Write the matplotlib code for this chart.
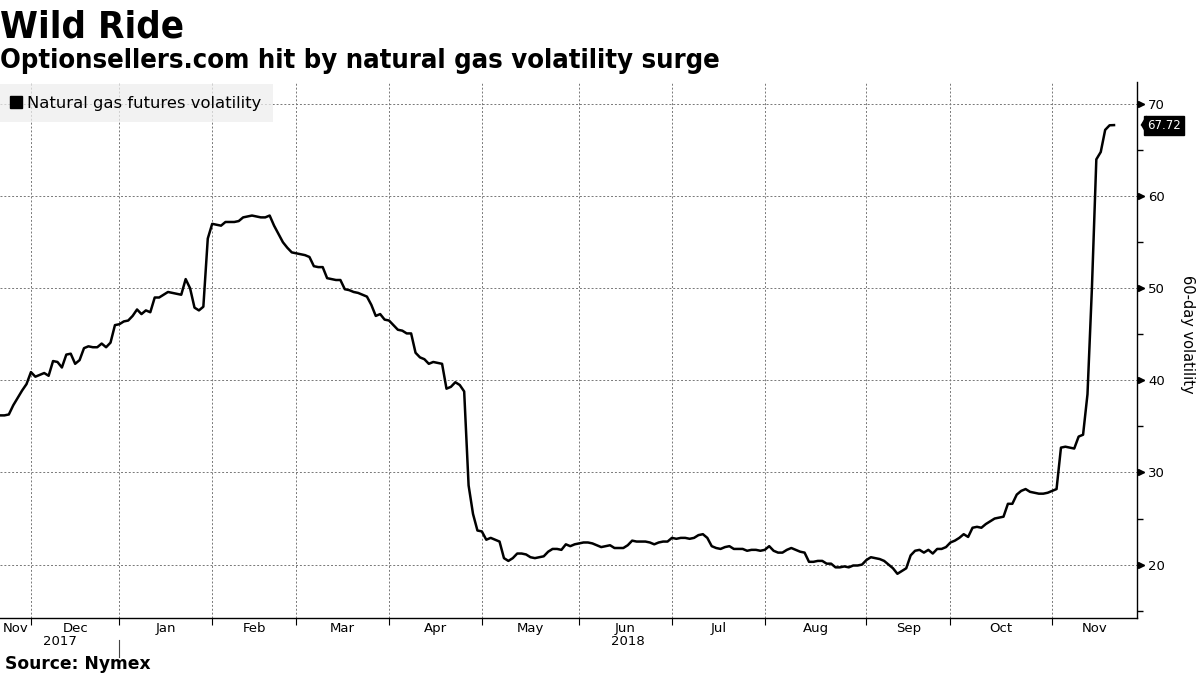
import numpy as np
import matplotlib
matplotlib.use('Agg')
import matplotlib.pyplot as plt
import matplotlib.transforms as mtransforms
from matplotlib.lines import Line2D

plt.rcParams['font.family'] = ['DejaVu Sans']
title_font = ['Liberation Sans Narrow', 'DejaVu Sans']

# trading days from 2017-11-21, NYMEX holidays skipped
start = '2017-11-21'
holidays = ['2017-11-23', '2017-12-25', '2018-01-01', '2018-01-15', '2018-02-19',
            '2018-03-30', '2018-05-28', '2018-07-04', '2018-09-03']

# 60-day volatility of natural gas futures, one value per trading day
vol = [
    36.2, 36.2, 36.3, 37.3, 38.1, 38.9, 39.6, 40.9, 40.4, 40.6,
    40.8, 40.5, 42.1, 42.0, 41.4, 42.8, 42.9, 41.8, 42.2, 43.5,
    43.7, 43.6, 43.6, 44.0, 43.6, 44.1, 46.0, 46.1, 46.4, 46.5,
    47.0, 47.7, 47.2, 47.6, 47.4, 49.0, 49.0, 49.3, 49.6, 49.5,
    49.4, 49.3, 51.0, 50.0, 47.9, 47.6, 48.0, 55.4, 57.0, 56.9,
    56.8, 57.2, 57.2, 57.2, 57.3, 57.7, 57.8, 57.9, 57.8, 57.7,
    57.7, 57.9, 56.8, 55.9, 55.0, 54.4, 53.9, 53.8, 53.7, 53.6,
    53.4, 52.4, 52.3, 52.3, 51.1, 51.0, 50.9, 50.9, 49.9, 49.8,
    49.6, 49.5, 49.3, 49.1, 48.2, 47.0, 47.2, 46.6, 46.5, 46.0,
    45.5, 45.4, 45.1, 45.1, 43.0, 42.5, 42.3, 41.8, 42.0, 41.9,
    41.8, 39.1, 39.3, 39.8, 39.5, 38.8, 28.6, 25.5, 23.7, 23.6,
    22.7, 22.9, 22.7, 22.5, 20.7, 20.4, 20.7, 21.2, 21.2, 21.1,
    20.8, 20.7, 20.8, 20.9, 21.4, 21.7, 21.7, 21.6, 22.2, 22.0,
    22.2, 22.3, 22.4, 22.4, 22.3, 22.1, 21.9, 22.0, 22.1, 21.8,
    21.8, 21.8, 22.1, 22.6, 22.5, 22.5, 22.5, 22.4, 22.2, 22.4,
    22.5, 22.5, 22.9, 22.8, 22.9, 22.9, 22.8, 22.9, 23.2, 23.3,
    22.9, 22.0, 21.8, 21.7, 21.9, 22.0, 21.7, 21.7, 21.7, 21.5,
    21.6, 21.6, 21.5, 21.6, 22.0, 21.5, 21.3, 21.3, 21.6, 21.8,
    21.6, 21.4, 21.3, 20.3, 20.3, 20.4, 20.4, 20.1, 20.1, 19.7,
    19.7, 19.8, 19.7, 19.9, 19.9, 20.0, 20.5, 20.8, 20.7, 20.6,
    20.4, 20.0, 19.6, 19.0, 19.3, 19.6, 21.0, 21.5, 21.6, 21.3,
    21.6, 21.2, 21.7, 21.7, 21.9, 22.4, 22.6, 22.9, 23.3, 23.0,
    24.0, 24.1, 24.0, 24.4, 24.7, 25.0, 25.1, 25.2, 26.6, 26.6,
    27.6, 28.0, 28.2, 27.9, 27.8, 27.7, 27.7, 27.8, 28.0, 28.2,
    32.7, 32.8, 32.7, 32.6, 33.9, 34.1, 38.5, 50.0, 64.0, 64.8,
    67.2, 67.7, 67.72,
]

month_starts = ['2017-12-01', '2018-01-01', '2018-02-01', '2018-03-01', '2018-04-01',
                '2018-05-01', '2018-06-01', '2018-07-01', '2018-08-01', '2018-09-01',
                '2018-10-01', '2018-11-01']
month_labels = ['Nov', 'Dec', 'Jan', 'Feb', 'Mar', 'Apr', 'May', 'Jun', 'Jul', 'Aug',
                'Sep', 'Oct', 'Nov']
years = ['2017', '2018']

x = np.arange(len(vol))
bounds = np.busday_count(start, month_starts, holidays=holidays)
x_max = 257.2
edges = np.concatenate([[0], bounds, [x_max]])
mids = (edges[:-1] + edges[1:]) / 2

fig = plt.figure(figsize=(12, 6.75), dpi=100)
ax = fig.add_axes([0.0, 1 - 618 / 675, 1137 / 1200, 536 / 675])

ax.plot(x, vol, color='black', lw=1.8, solid_joinstyle='round', zorder=3)
ax.set_xlim(0, x_max)
ax.set_ylim(14.2, 72.4)

for s in ['left', 'top']:
    ax.spines[s].set_visible(False)
ax.spines['right'].set_linewidth(1.0)
ax.spines['bottom'].set_linewidth(1.0)

# y axis on the right
ax.yaxis.tick_right()
ax.set_yticks(range(20, 71, 10))
ax.set_yticks(range(15, 70, 10), minor=True)
ax.tick_params(axis='y', which='major', length=5, width=1, labelsize=9.5, pad=3)
ax.tick_params(axis='y', which='minor', length=4, width=1)
ax.yaxis.set_label_position('right')
ax.set_ylabel('60-day volatility', rotation=270, fontsize=10.5, va='center', ha='center')
ax.yaxis.set_label_coords(1 + 51 / 1137, 0.53)

tri = mtransforms.blended_transform_factory(ax.transAxes, ax.transData)
ax.plot([1.0] * 6, range(20, 71, 10), ls='none', marker='>', ms=4, color='black',
        clip_on=False,
        transform=tri + mtransforms.ScaledTranslation(4 / 100, 0, fig.dpi_scale_trans))

# x axis: ticks at month boundaries, labels between them
ax.set_xticks(bounds)
ax.set_xticklabels([])
ax.set_xticks(mids, minor=True)
ax.set_xticklabels(month_labels, minor=True)
ax.tick_params(axis='x', which='major', length=5, width=0.8, direction='out')
ax.tick_params(axis='x', which='minor', length=0, labelsize=9.5, pad=3)

xt = mtransforms.blended_transform_factory(ax.transData, ax.transAxes)
year_mid = [(0 + bounds[1]) / 2, (bounds[1] + x_max) / 2]
for xm, yr in zip(year_mid, years):
    ax.text(xm, -0.043, yr, transform=xt, ha='center', va='center', fontsize=9.5)
ax.plot([bounds[1], bounds[1]], [-0.041, -0.073], transform=xt, color='#444444',
        lw=0.8, clip_on=False)

ax.grid(which='major', color='#777777', ls=(0, (2, 2)), lw=0.7)

# legend
handle = Line2D([], [], marker='s', color='black', ls='none', ms=8)
leg = ax.legend([handle], ['Natural gas futures volatility'], loc='upper left',
                bbox_to_anchor=(0, 0.996), borderaxespad=0, frameon=True, fancybox=False,
                facecolor='#eeeeee', edgecolor='none', framealpha=0.75,
                handlelength=0.6, handletextpad=0.35, borderpad=0.7, fontsize=11.8)

# last value tag
last = vol[-1]
ax.plot([1.0], [last], marker=[(-0.6, 0), (0, 1), (0, -1)], ms=13, color='black',
        ls='none', clip_on=False,
        transform=tri + mtransforms.ScaledTranslation(9 / 100, 0, fig.dpi_scale_trans))
ax.annotate(f'{last:.2f}', xy=(1.0, last), xycoords=tri, xytext=(7.5, 0),
            textcoords='offset points', ha='left', va='center', color='white',
            fontsize=8.5,
            bbox=dict(boxstyle='square,pad=0.25', fc='black', ec='black'))

fig.text(0.0, 1 - 37 / 675, 'Wild Ride', fontsize=27.5, fontweight='bold',
         family=title_font, fontstretch='condensed', va='baseline', ha='left')
fig.text(0.0, 1 - 68 / 675, 'Optionsellers.com hit by natural gas volatility surge',
         fontsize=19.6, fontweight='bold', family=title_font, fontstretch='condensed',
         va='baseline', ha='left')
fig.text(0.004, 1 - 669 / 675, 'Source: Nymex', fontsize=12.3, fontweight='bold',
         va='baseline', ha='left')

fig.savefig('out.png', dpi=100)
